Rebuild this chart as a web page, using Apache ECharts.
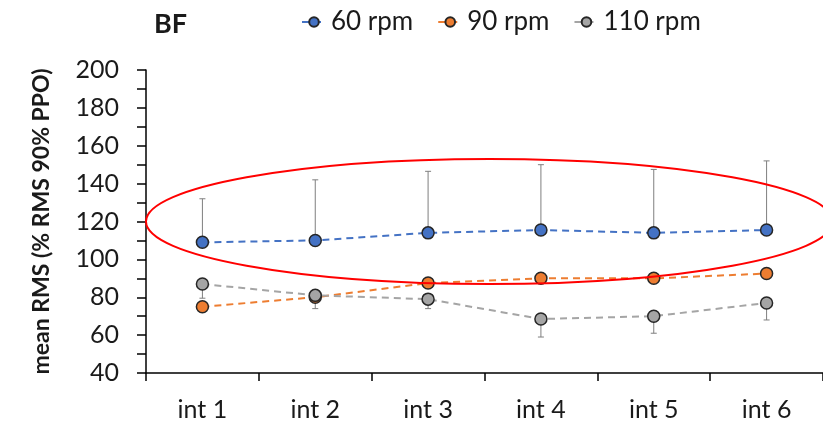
<!DOCTYPE html>
<html>
<head>
<meta charset="utf-8">
<script src="https://cdn.jsdelivr.net/npm/echarts@6/dist/echarts.min.js"></script>
<style>
  html, body { margin: 0; padding: 0; background: #fff; }
  #main { width: 823px; height: 422px; }
</style>
</head>
<body>
<div id="main"></div>
<script>
var categories = ['int 1', 'int 2', 'int 3', 'int 4', 'int 5', 'int 6'];
var rpm60 = [109, 110, 114, 115.5, 114, 115.5];
var rpm90 = [75, 80, 87.5, 90, 90, 92.5];
var rpm110 = [87, 81, 79, 68.5, 70, 77];
// ends of the error bars (60 rpm up, 110 rpm down)
var rpm60Upper = [132, 142, 146.5, 150, 147.5, 152];
var rpm110Lower = [79.5, 74, 74, 59, 61, 68];

var font = 'Lato, "Open Sans", sans-serif';

var myChart = echarts.init(document.getElementById('main'));

function errorBar(mean, ends) {
    var d = [];
    for (var i = 0; i < mean.length; i++) {
        d.push([i, mean[i], ends[i]]);
    }
    return {
        type: 'custom',
        z: 1,
        silent: true,
        renderItem: function (params, api) {
            var p1 = api.coord([api.value(0), api.value(1)]);
            var p2 = api.coord([api.value(0), api.value(2)]);
            var style = { stroke: '#7f7f7f', lineWidth: 1 };
            return {
                type: 'group',
                children: [
                    { type: 'line', shape: { x1: p1[0], y1: p1[1], x2: p2[0], y2: p2[1] }, style: style },
                    { type: 'line', shape: { x1: p2[0] - 3, y1: p2[1], x2: p2[0] + 3, y2: p2[1] }, style: style }
                ]
            };
        },
        data: d
    };
}

function lineSeries(name, data, color) {
    return {
        name: name,
        type: 'line',
        z: 3,
        data: data,
        symbol: 'circle',
        symbolSize: 12,
        lineStyle: { color: color, width: 2, type: [7, 5] },
        itemStyle: { color: color, borderColor: '#262626', borderWidth: 1.5 }
    };
}

var option = {
    animation: false,
    title: {
        text: 'BF',
        left: 149,
        top: 6,
        textStyle: { fontFamily: font, fontSize: 27, fontWeight: 'bold', color: '#1a1a1a' }
    },
    legend: {
        data: ['60 rpm', '90 rpm', '110 rpm'],
        left: 296,
        top: 4,
        itemWidth: 24,
        itemHeight: 12,
        itemGap: 24,
        textStyle: { fontFamily: font, fontSize: 26, color: '#1a1a1a' }
    },
    grid: { left: 146, top: 70, right: -5, bottom: 49 },
    xAxis: {
        type: 'category',
        data: categories,
        axisLine: { lineStyle: { color: '#000', width: 1.5 } },
        axisTick: { show: true, length: 8, lineStyle: { color: '#000', width: 1.5 } },
        axisLabel: { fontFamily: font, fontSize: 25, color: '#1a1a1a', margin: 24 }
    },
    yAxis: {
        type: 'value',
        min: 40,
        max: 200,
        interval: 20,
        name: 'mean RMS (% RMS 90% PPO)',
        nameLocation: 'middle',
        nameGap: 93,
        nameRotate: 90,
        nameTextStyle: { fontFamily: font, fontSize: 23, fontWeight: 'bold', color: '#1a1a1a' },
        axisLine: { show: true, lineStyle: { color: '#000', width: 1.5 } },
        axisTick: { show: true, length: 9, lineStyle: { color: '#000', width: 1.5 } },
        minorTick: { show: true, splitNumber: 2, length: 9, lineStyle: { color: '#000', width: 1.5 } },
        splitLine: { show: false },
        axisLabel: { fontFamily: font, fontSize: 25, color: '#1a1a1a', margin: 27 }
    },
    series: [
        errorBar(rpm60, rpm60Upper),
        errorBar(rpm110, rpm110Lower),
        lineSeries('60 rpm', rpm60, '#4472C4'),
        lineSeries('90 rpm', rpm90, '#ED7D31'),
        lineSeries('110 rpm', rpm110, '#A5A5A5')
    ]
};

myChart.setOption(option);

// red ellipse highlighting the 60 rpm series, from the y axis to just past the right edge
var p0 = myChart.convertToPixel({ gridIndex: 0 }, [0, 153]);
var p2 = myChart.convertToPixel({ gridIndex: 0 }, [2, 120]);
var p3 = myChart.convertToPixel({ gridIndex: 0 }, [3, 120]);
var rx = p3[0] - p0[0] + 5;
var cx = (p2[0] + p3[0]) / 2 + 5;
var cy = p2[1];
myChart.setOption({
    graphic: [{
        type: 'ellipse',
        z: 10,
        silent: true,
        shape: { cx: cx, cy: cy, rx: rx, ry: cy - p0[1] },
        style: { fill: 'none', stroke: '#FF0000', lineWidth: 2 }
    }]
});
</script>
</body>
</html>
